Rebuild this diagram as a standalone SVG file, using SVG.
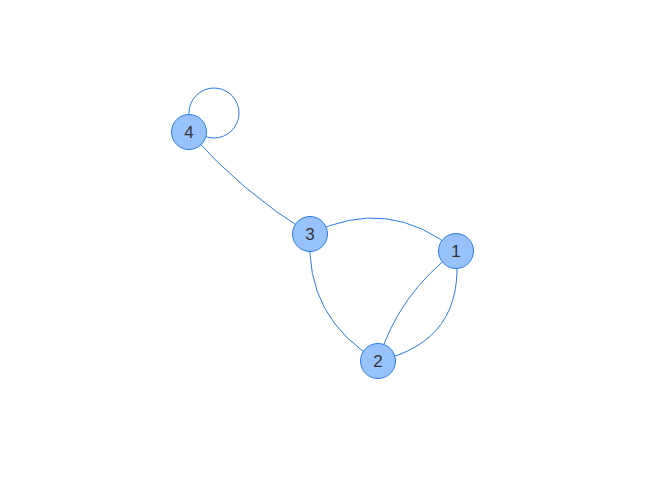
<svg xmlns="http://www.w3.org/2000/svg" width="645" height="495" viewBox="0 0 645 495">
<style>
.e{fill:none;stroke:#2b7ce9;stroke-width:1}
.n circle{fill:#97c2fc;stroke:#2b7ce9;stroke-width:1}
.n text{font-family:"Liberation Sans",Arial,sans-serif;font-size:17px;fill:#343434;text-anchor:middle;dominant-baseline:central}
</style>
<rect width="645" height="495" fill="#ffffff"/>
<g id="edges">
<path class="e" d="M189,132 Q241.8,192.2 310,234"/>
<circle class="e" cx="214" cy="113" r="25"/>
<path class="e" d="M310,234 Q388.7,195 456,251"/>
<path class="e" d="M310,234 Q305,318 378,361"/>
<path class="e" d="M456,251 Q466,341 378,361"/>
<path class="e" d="M456,251 Q398.5,293.8 378,361"/>
</g>
<g id="node4" class="n"><circle cx="189" cy="132" r="17.5"/><text x="189" y="132">4</text></g>
<g id="node3" class="n"><circle cx="310" cy="234" r="17.5"/><text x="310" y="234">3</text></g>
<g id="node1" class="n"><circle cx="456" cy="251" r="17.5"/><text x="456" y="251">1</text></g>
<g id="node2" class="n"><circle cx="378" cy="361" r="17.5"/><text x="378" y="361">2</text></g>
</svg>
